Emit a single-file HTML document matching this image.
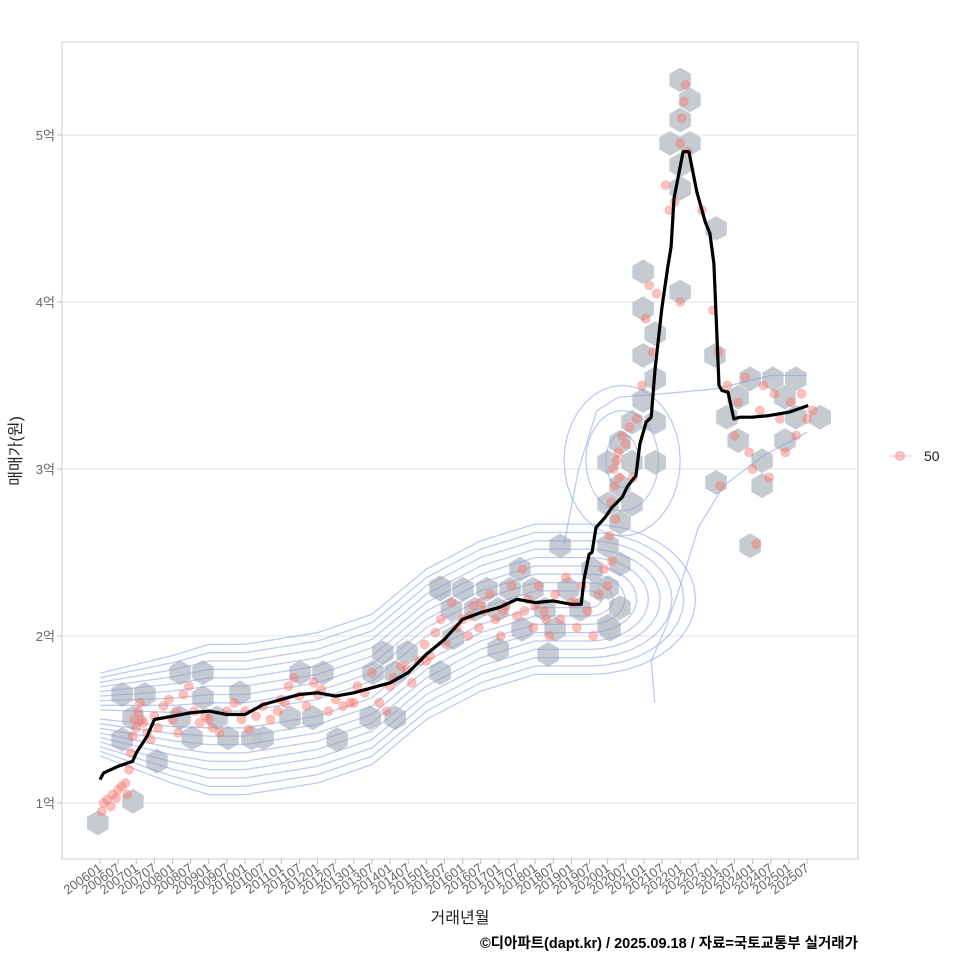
<!DOCTYPE html>
<html><head><meta charset="utf-8">
<style>
html,body{margin:0;padding:0;background:#fff;}
svg{display:block;font-family:"Liberation Sans","Noto Sans CJK KR",sans-serif;}
</style></head>
<body>
<svg id="chart" width="960" height="960" viewBox="0 0 960 960" xmlns="http://www.w3.org/2000/svg">
<rect x="0" y="0" width="960" height="960" fill="#fff"/>
<defs><clipPath id="clip"><rect x="62" y="42" width="796" height="817"/></clipPath></defs>
<g id="grid"></g>
<g id="plot" clip-path="url(#clip)">
<g id="hexes"></g>
<g id="contours"></g>
<g id="points"></g>
<g id="trend"></g>
</g>
<rect x="62" y="42" width="796" height="817" fill="none" stroke="#cccccc" stroke-width="1"/>
<g id="axes"></g>
<text transform="translate(21,451) rotate(-90)" text-anchor="middle" font-size="16" fill="#222">매매가(원)</text>
<text x="460" y="923" text-anchor="middle" font-size="16" fill="#222">거래년월</text>
<text x="858" y="948" text-anchor="end" font-size="14.5" font-weight="bold" fill="#000">©디아파트(dapt.kr) / 2025.09.18 / 자료=국토교통부 실거래가</text>
<g>
<line x1="889" y1="456" x2="912" y2="456" stroke="#f8766d" stroke-opacity="0.4" stroke-width="1"/>
<circle cx="900" cy="456" r="4.5" fill="#f8766d" fill-opacity="0.4" stroke="#f8766d" stroke-opacity="0.5"/>
<text x="924" y="461" font-size="14" fill="#222">50</text>
</g>
</svg>
<script>
const yTicks = [1,2,3,4,5];
const yTickLabels = ["1억","2억","3억","4억","5억"];
const xTickLabels = ["200601","200607","200701","200707","200801","200807","200901","200907","201001","201007","201101","201107","201201","201207","201301","201307","201401","201407","201501","201507","201601","201607","201701","201707","201801","201807","201901","201907","202001","202007","202101","202107","202201","202207","202301","202307","202401","202407","202501","202507"];
const trendT = [2006.0,2006.1,2006.5,2006.9,2007.0,2007.3,2007.5,2008.0,2008.5,2009.0,2009.5,2010.0,2010.5,2011.0,2011.5,2012.0,2012.5,2013.0,2013.5,2014.0,2014.5,2015.0,2015.5,2016.0,2016.5,2017.0,2017.5,2018.0,2018.5,2019.0,2019.27,2019.35,2019.49,2019.57,2019.68,2019.93,2020.12,2020.40,2020.56,2020.78,2020.89,2021.06,2021.20,2021.31,2021.50,2021.66,2021.75,2021.83,2022.08,2022.24,2022.46,2022.69,2022.82,2022.93,2023.07,2023.15,2023.32,2023.48,2023.65,2023.98,2024.45,2025.00,2025.53];
const trendV = [1.14,1.18,1.22,1.25,1.30,1.40,1.50,1.52,1.54,1.55,1.53,1.53,1.59,1.62,1.65,1.66,1.64,1.66,1.69,1.72,1.78,1.89,1.98,2.10,2.14,2.17,2.22,2.20,2.21,2.19,2.19,2.34,2.49,2.50,2.65,2.71,2.77,2.83,2.90,2.96,3.15,3.28,3.31,3.60,3.97,4.21,4.33,4.62,4.90,4.90,4.66,4.48,4.41,4.23,3.50,3.47,3.46,3.30,3.31,3.31,3.32,3.34,3.38];
const ptT = [2006.05,2006.1,2006.2,2006.3,2006.35,2006.45,2006.5,2006.6,2006.7,2006.75,2006.8,2006.85,2006.9,2006.95,2007.0,2007.05,2007.1,2007.2,2007.3,2007.4,2007.5,2007.6,2007.75,2007.9,2008.0,2008.15,2008.3,2008.45,2008.6,2008.75,2008.9,2009.1,2009.3,2009.5,2009.7,2009.9,2010.1,2010.3,2010.5,2010.7,2010.9,2011.0,2011.2,2011.35,2011.5,2011.7,2011.9,2012.1,2012.3,2012.5,2012.7,2012.9,2013.1,2013.3,2013.5,2013.7,2013.9,2014.1,2014.3,2014.45,2014.6,2014.8,2014.95,2015.1,2015.25,2015.4,2015.55,2015.7,2015.85,2016.0,2016.15,2016.3,2016.45,2016.6,2016.75,2016.9,2017.05,2017.2,2017.35,2017.5,2017.65,2017.8,2017.95,2018.1,2018.25,2018.4,2018.55,2018.7,2018.85,2019.0,2019.15,2019.3,2019.45,2019.6,2019.75,2019.9,2020.05,2020.1,2020.15,2020.2,2020.25,2020.3,2020.4,2020.5,2020.6,2020.7,2020.8,2020.95,2021.05,2021.15,2021.25,2021.35,2021.6,2021.7,2021.85,2022.0,2022.05,2022.1,2022.15,2022.2,2022.0,2022.6,2022.9,2023.05,2023.1,2023.3,2023.5,2023.6,2023.8,2023.9,2024.0,2024.1,2024.2,2024.3,2024.45,2024.6,2024.75,2024.9,2025.05,2025.2,2025.35,2025.5,2025.65,2007.15,2008.1,2009.0,2010.0,2011.1,2012.0,2013.0,2014.0,2015.0,2016.2,2017.1,2018.0,2019.1,2020.0,2020.12,2020.22,2020.32,2016.5,2017.7,2018.3];
const ptV = [0.95,1.0,1.02,0.98,1.05,1.03,1.08,1.1,1.12,1.05,1.2,1.3,1.4,1.5,1.45,1.55,1.6,1.48,1.42,1.38,1.52,1.45,1.58,1.62,1.5,1.42,1.65,1.7,1.55,1.48,1.52,1.45,1.42,1.55,1.6,1.5,1.44,1.52,1.58,1.5,1.55,1.62,1.7,1.75,1.64,1.58,1.72,1.68,1.55,1.62,1.58,1.6,1.7,1.66,1.78,1.6,1.55,1.75,1.82,1.8,1.72,1.85,1.95,1.88,2.02,2.1,1.95,2.2,2.05,2.1,2.0,2.18,2.05,2.15,2.25,2.1,2.0,2.18,2.3,2.12,2.4,2.22,2.05,2.3,2.15,2.0,2.25,2.1,2.35,2.2,2.05,2.3,2.15,2.0,2.25,2.4,2.6,2.8,3.0,2.9,3.05,3.1,3.2,3.15,3.25,2.95,3.3,3.5,3.9,4.1,3.7,4.05,4.7,4.55,4.6,4.95,5.1,5.2,5.3,4.9,4.0,4.55,3.95,3.7,2.9,3.5,3.2,3.4,3.55,3.1,3.0,2.55,3.35,3.5,2.95,3.45,3.3,3.1,3.4,3.2,3.45,3.3,3.35,1.5,1.55,1.5,1.55,1.6,1.65,1.6,1.7,1.85,2.12,2.15,2.18,2.2,2.3,2.45,2.7,2.95,2.2,2.15,2.1];
const hexT = [2005.94,2006.91,2006.61,2006.61,2007.24,2007.57,2006.91,2008.21,2008.84,2008.21,2008.54,2008.84,2009.86,2010.19,2010.5,2009.53,2009.23,2011.52,2012.15,2011.24,2012.54,2011.87,2013.8,2014.47,2014.14,2013.53,2014.14,2013.45,2015.38,2015.74,2015.38,2015.38,2016.01,2015.69,2016.34,2016.67,2016.98,2017.31,2017.58,2016.98,2017.64,2018.27,2018.55,2018.36,2018.69,2018.91,2019.24,2019.79,2020.07,2019.57,2017.94,2022.0,2022.27,2022.0,2021.72,2022.27,2022.0,2022.0,2022.99,2022.0,2020.98,2020.98,2021.31,2020.98,2022.96,2021.31,2020.98,2021.31,2020.67,2020.34,2020.01,2020.67,2021.31,2020.34,2020.67,2020.01,2020.34,2020.01,2020.34,2020.01,2020.34,2020.01,2023.29,2023.6,2023.93,2024.56,2025.19,2025.86,2023.6,2024.26,2024.89,2024.26,2023.93,2022.99,2025.19,2024.89];
const hexV = [0.88,1.01,1.38,1.65,1.65,1.25,1.51,1.78,1.78,1.51,1.39,1.63,1.66,1.39,1.39,1.39,1.51,1.78,1.78,1.51,1.38,1.51,1.90,1.90,1.78,1.78,1.51,1.51,2.29,1.99,1.78,2.28,2.28,2.16,2.16,2.28,2.16,2.28,2.40,1.92,2.04,2.16,2.04,1.89,2.54,2.28,2.16,2.28,2.04,2.40,2.28,5.33,5.21,5.09,4.95,4.95,4.82,4.68,4.44,4.06,4.18,3.96,3.81,3.68,3.68,3.54,3.41,3.28,3.28,3.16,3.04,3.04,3.04,2.90,2.79,2.79,2.68,2.54,2.43,2.29,2.17,2.06,3.31,3.43,3.54,3.54,3.54,3.31,3.17,3.05,3.17,2.90,2.54,2.92,3.31,3.43];
const bandT = [2006.0,2008.0,2010.0,2012.0,2013.5,2015.0,2016.5,2018.0,2019.5];
const bandV = [1.53,1.50,1.50,1.57,1.68,1.95,2.12,2.22,2.22];
const bandLevels = [0.05,0.1,0.15,0.2,0.25,0.3,0.35,0.4,0.45];
const peakLevelsT = [0.45,1.0,1.6];
const peakLevelsV = [0.16,0.3,0.45];
const peakCenter = [2020.4,3.05];
const outerT = [2018.8,2019.2,2019.7,2020.3,2021.5,2023.0,2024.5,2025.5];
const outerV = [2.55,3.0,3.35,3.43,3.45,3.48,3.56,3.56];
const outer2T = [2025.5,2024.3,2023.2,2022.5,2022.0,2021.6,2021.2,2021.3];
const outer2V = [3.22,3.08,2.9,2.65,2.3,2.05,1.85,1.6];

const NS="http://www.w3.org/2000/svg";
const X0=62,X1=858,Y0=42,Y1=859;
function xs(t){return 100+(t-2006)*36.26;}
function ys(v){return 803-(v-1)*167;}
function mk(tag,attrs,parent){const e=document.createElementNS(NS,tag);for(const k in attrs)e.setAttribute(k,attrs[k]);parent.appendChild(e);return e;}
const grid=document.getElementById('grid'),axes=document.getElementById('axes');
yTicks.forEach((v,i)=>{
  const g=mk('line',{x1:X0,x2:X1,y1:ys(v),y2:ys(v),stroke:'#e3e3e3','stroke-width':1},grid);
  
  
  const tk=mk('line',{x1:X0-5,x2:X0,y1:ys(v),y2:ys(v),stroke:'#bbb'},axes);
  
  
  const t=mk('text',{x:X0-7,y:ys(v)+5,'text-anchor':'end','font-size':13,fill:'#666'},axes);
  t.textContent=yTickLabels[i];
  
  
});
xTickLabels.forEach((lab,i)=>{
  const t=2006+i*0.5,x=xs(t);
  const tk=mk('line',{x1:x,x2:x,y1:Y1,y2:Y1+5,stroke:'#bbb'},axes);
  
  
  const tx=mk('text',{transform:`translate(${x+3},${Y1+11}) rotate(-35)`,'text-anchor':'end','font-size':13,fill:'#666'},axes);
  tx.textContent=lab;
  
  
});
const hexG=document.getElementById('hexes');
const R=12.4;
hexT.forEach((t,i)=>{
  const cx=xs(t),cy=ys(hexV[i]);let pts=[];
  for(let k=0;k<6;k++){const a=Math.PI/180*(60*k-90);pts.push((cx+R*Math.cos(a)).toFixed(1)+','+(cy+R*Math.sin(a)).toFixed(1));}
  const h=mk('polygon',{points:pts.join(' '),fill:'#bfc5cb','fill-opacity':0.9},hexG);
  
  
});
const cg=document.getElementById('contours');
function bandC(t){if(t<=bandT[0])return bandV[0];for(let i=1;i<bandT.length;i++){if(t<=bandT[i]){const f=(t-bandT[i-1])/(bandT[i]-bandT[i-1]);return bandV[i-1]+f*(bandV[i]-bandV[i-1]);}}return bandV[bandV.length-1];}
function widthF(t){return Math.min(1,0.55+(t-2006)*0.15);}
function cstyle(p){p.setAttribute('fill','none');p.setAttribute('stroke','#8a9ee6');p.setAttribute('stroke-opacity','0.55');p.setAttribute('stroke-width','1.3');}
bandLevels.forEach(d=>{
  const tEnd=2019.5;const pts=[];
  for(let t=2006;t<=tEnd;t+=0.1)pts.push([xs(t),ys(bandC(t)-d*widthF(t))]);
  for(let a=-90;a<=90;a+=10){const r=a*Math.PI/180;pts.push([xs(tEnd+d*6.5*Math.cos(r)),ys(bandC(tEnd)+d*Math.sin(r))]);}
  for(let t=tEnd;t>=2006;t-=0.1)pts.push([xs(t),ys(bandC(t)+d*widthF(t))]);
  const p=mk('path',{d:'M'+pts.map(q=>q[0].toFixed(1)+','+q[1].toFixed(1)).join('L')},cg);cstyle(p);
  
  
});
peakLevelsT.forEach((rt,i)=>{
  const rv=peakLevelsV[i];const pts=[];
  for(let a=0;a<=360;a+=10){const r=a*Math.PI/180;pts.push([xs(peakCenter[0]+rt*Math.cos(r)),ys(peakCenter[1]+rv*Math.sin(r))]);}
  const p=mk('path',{d:'M'+pts.map(q=>q[0].toFixed(1)+','+q[1].toFixed(1)).join('L')},cg);cstyle(p);
  
  
});
[[outerT,outerV],[outer2T,outer2V]].forEach(arr=>{
  const p=mk('path',{d:'M'+arr[0].map((t,i)=>xs(t).toFixed(1)+','+ys(arr[1][i]).toFixed(1)).join('L')},cg);cstyle(p);
  
  
});
const pg=document.getElementById('points');
ptT.forEach((t,i)=>{
  const c=mk('circle',{cx:xs(t),cy:ys(ptV[i]),r:4.5,fill:'#f8766d','fill-opacity':0.45,stroke:'#f8766d','stroke-opacity':0.3},pg);
  
  
});
const tl=mk('path',{d:'M'+trendT.map((t,i)=>xs(t).toFixed(1)+','+ys(trendV[i]).toFixed(1)).join('L'),fill:'none',stroke:'#000','stroke-width':3.2,'stroke-linejoin':'round'},document.getElementById('trend'));


</script>
</body></html>
